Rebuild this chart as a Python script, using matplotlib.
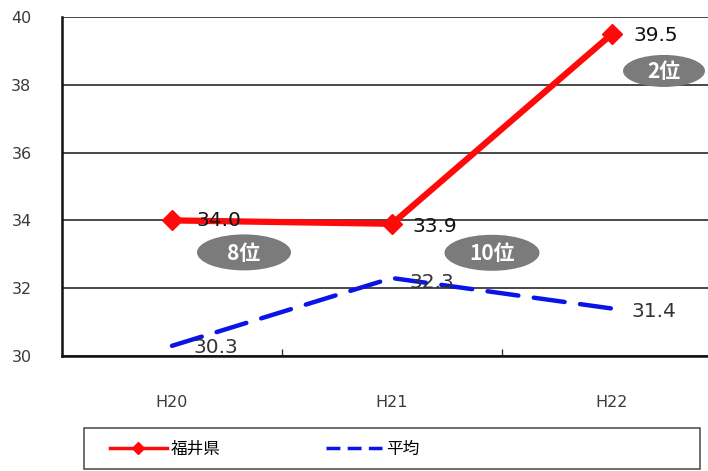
import matplotlib
matplotlib.use("Agg")
import matplotlib.pyplot as plt
import matplotlib.transforms as mtransforms
from matplotlib.patches import Ellipse, Rectangle
from matplotlib.lines import Line2D

plt.rcParams['font.family'] = ['DejaVu Sans', 'Noto Sans CJK JP']

# data
years = ["H20", "H21", "H22"]
fukui = [34.0, 33.9, 39.5]
average = [30.3, 32.3, 31.4]
fukui_rank = ["8位", "10位", "2位"]
series_names = ["福井県", "平均"]
y_ticks = [30, 32, 34, 36, 38, 40]

W, H = 708, 471
fig = plt.figure(figsize=(W / 100, H / 100), dpi=100)
# the plot area runs past the right edge of the figure
ax = fig.add_axes([62 / W, 1 - 356 / H, 660 / W, 339 / H])

x = list(range(len(years)))
ax.set_xlim(-0.5, len(years) - 0.5)
ax.set_ylim(30, 40)

ax.set_yticks(y_ticks)
ax.yaxis.grid(True, color='#3a3a3a', linewidth=1.3)
ax.set_axisbelow(True)
ax.tick_params(axis='y', length=0, pad=22, labelsize=11.5, labelcolor='#3a3a3a')
ax.set_xticks(x)
ax.set_xticklabels(years)
ax.tick_params(axis='x', which='major', length=0, pad=28, labelsize=11.5, labelcolor='#3a3a3a')
ax.set_xticks([0.5, 1.5], minor=True)
ax.tick_params(axis='x', which='minor', direction='in', length=5, width=1, color='#333333')
for side in ('left', 'bottom'):
    ax.spines[side].set_linewidth(1.8)
    ax.spines[side].set_color('#111111')
ax.spines['top'].set_visible(False)
ax.spines['right'].set_visible(False)

# series
ax.plot(x, average, color='#0a14e6', linewidth=3.2, linestyle=(0, (7, 3.5)),
        dash_capstyle='round', zorder=3)
ax.plot(x, fukui, color='#ff0a0a', linewidth=4.5, marker='D', markersize=10,
        markeredgecolor='#ff0a0a', zorder=4)

# value labels
lab_off_f = [(24, 0), (20, -3), (21, -2)]
lab_off_a = [(21, -2), (17, -4), (19, -3)]
for i in x:
    ax.annotate(f"{fukui[i]:.1f}", (i, fukui[i]), xytext=lab_off_f[i],
                textcoords='offset pixels', ha='left', va='center',
                fontsize=14.5, color='#111111', zorder=5)
    ax.annotate(f"{average[i]:.1f}", (i, average[i]), xytext=lab_off_a[i],
                textcoords='offset pixels', ha='left', va='center',
                fontsize=14.5, color='#333333', zorder=5)

# rank badges
badge_off = [(72, -32), (100, -29), (52, -37)]
badge_size = [(94, 36), (95, 36), (82, 32)]
for i in x:
    dx, dy = badge_off[i]
    bw, bh = badge_size[i]
    trans = fig.dpi_scale_trans + mtransforms.ScaledTranslation(i, fukui[i], ax.transData)
    ax.add_patch(Ellipse((dx / 100, dy / 100), bw / 100, bh / 100, transform=trans,
                         facecolor='#7b7b7b', edgecolor='none', zorder=6, clip_on=False))
    ax.annotate(fukui_rank[i], (i, fukui[i]), xytext=(dx, dy - 1),
                textcoords='offset pixels', ha='center', va='center',
                fontsize=15, fontweight='bold', color='white',
                family=['Noto Sans CJK JP'], zorder=7, annotation_clip=False)

# legend
fig.patches.append(Rectangle((84 / W, 1 - 469 / H), 616 / W, 41 / H,
                             transform=fig.transFigure, facecolor='white',
                             edgecolor='#555555', linewidth=1.2))
handles = [Line2D([], [], color='#ff0a0a', linewidth=2.5, marker='D', markersize=6),
           Line2D([], [], color='#0a14e6', linewidth=2.5, linestyle=(0, (4, 2.1)))]
fig.legend(handles, series_names, loc='center left',
           bbox_to_anchor=(95 / W, 1 - 449 / H), frameon=False, ncol=2,
           handlelength=3.4, handletextpad=0.25, columnspacing=6.3,
           prop={'family': ['Noto Sans CJK JP'], 'size': 12})

fig.savefig("out.png", dpi=100)
